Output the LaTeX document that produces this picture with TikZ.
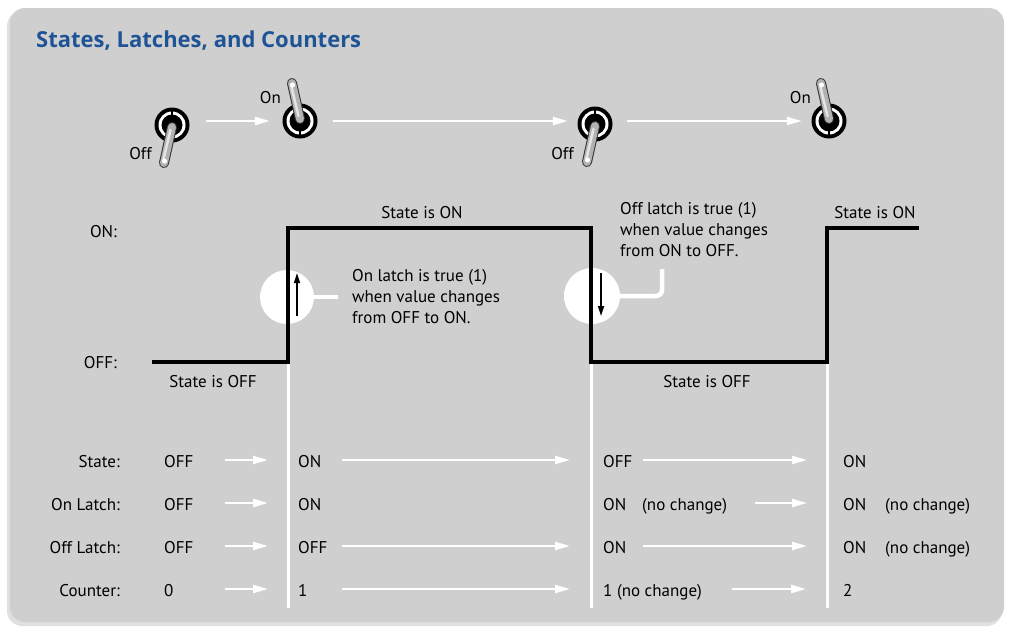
\documentclass[tikz,border=0pt]{standalone}
\usepackage{fontspec}
\setmainfont{PT Sans}
\newfontfamily\titlefont{Open Sans}
\usetikzlibrary{arrows.meta, positioning, calc}
\definecolor{panelgray}{RGB}{207,207,207}
\definecolor{titleblue}{RGB}{30,84,150}
\definecolor{levergray}{RGB}{178,178,178}
\tikzset{
  %% ---- text ----
  txt/.style     = {inner sep=0pt, font=\fontsize{17}{21}\selectfont, text=black},
  rowlab/.style  = {txt, anchor=base east},
  cell/.style    = {txt, anchor=base west},
  note/.style    = {txt, anchor=base west, align=left},
  caption/.style = {txt, anchor=base},
  %% ---- lines ----
  flow/.style    = {-{Triangle[length=15pt,width=8pt]}, line width=2.4pt, white},
  divider/.style = {line width=3pt, white},
  signal/.style  = {line width=3.6pt, black, line join=miter},
  edgearrow/.style = {-{Triangle[length=10pt,width=6pt]}, line width=1.6pt, black},
  callout/.style = {line width=4.5pt, white, rounded corners=6pt},
  lens/.style    = {circle, fill=white, inner sep=0pt, minimum size=#1},
  lens/.default  = 54pt,
  %% ---- toggle switch (lever down = Off) ----
  toggle/.pic = {
    \node[circle, inner sep=0pt, minimum size=34pt] (-ring) at (0,0) {};
    \fill[black] (0,0) circle (17.5);
    \fill[white] (0,0) circle (13.5);
    \fill[black] (0,0) circle (10.5);
    \draw[black, line width=2.5pt] (0,-9) -- (0,-17);
    \draw[black!80, line width=10pt, line cap=round] (0,2) -- (-8,38);
    \draw[levergray, line width=8pt, line cap=round] (0,2) -- (-8,38);
    \draw[white!65!levergray, line width=2.5pt, line cap=round] (-1.5,5) -- (-8.5,34);
    \fill[white] (-7.5,36) circle (2.6);
  }
}

\begin{document}
\begin{tikzpicture}[x=1pt, y=-1pt]

  \useasboundingbox[fill=white] (0,0) rectangle (1010,627);
  \fill[black, opacity=0.12, rounded corners=15pt] (7,11) rectangle (1002,626);
  \fill[panelgray, rounded corners=15pt] (10,8) rectangle (1004,622);

  \node[anchor=base west, inner sep=0pt, text=titleblue,
    font=\titlefont\bfseries\fontsize{22}{26}\selectfont] (title) at (36,47)
    {States, Latches, and Counters};

  %% switches
  \pic (swA) at (172,125) {toggle};
  \pic[yscale=-1] (swB) at (300,121) {toggle};
  \pic (swC) at (595,124) {toggle};
  \pic[yscale=-1] (swD) at (829,121) {toggle};
  \node[txt, anchor=base east] (offA) at (152,159) {Off};
  \node[txt, anchor=base east] (onB)  at (281,103) {On};
  \node[txt, anchor=base east] (offC) at (574,159) {Off};
  \node[txt, anchor=base east] (onD)  at (811,103) {On};

  \draw[flow, shorten <=17pt, shorten >=13pt]
    (swA-ring.east |- swB-ring.center) -- (swB-ring.west);
  \draw[flow, shorten <=16pt, shorten >=10pt]
    (swB-ring.east) -- (swB-ring.east -| swC-ring.west);
  \draw[flow, shorten <=15pt, shorten >=10pt]
    (swC-ring.east |- swD-ring.center) -- (swD-ring.west);

  %% signal levels
  \node[rowlab] (lvlon)  at (117,237) {ON:};
  \node[rowlab] (lvloff) at (117,368) {OFF:};

  \coordinate (e1) at (288,362);
  \coordinate (e2) at (591,362);
  \coordinate (e3) at (827,362);
  \coordinate (bot) at (0,608);
  \foreach \e in {e1, e2, e3}
    \draw[divider] (\e) -- (\e |- bot);

  \node[lens] (lensA) at (287,297) {};
  \node[lens=56pt] (lensB) at (592,296) {};
  \coordinate (hookA) at (338,297);
  \coordinate (hookB) at (662,269);
  \draw[callout] (lensA.east) -- (hookA);
  \draw[callout] (lensB.east) -| (hookB);

  \draw[signal] (152,362) -- (e1) -- (288,228) -- (591,228) -- (e2)
    -- (e3) -- (827,228) -- (919,228);

  \draw[edgearrow] (297,316) -- (297,273);
  \draw[edgearrow] (601,273) -- (601,316);

  \node[caption] (son1)  at (422,218) {State is ON};
  \node[caption] (soff1) at (213,387) {State is OFF};
  \node[caption] (soff2) at (707,387) {State is OFF};
  \node[caption] (son2)  at (875,218) {State is ON};

  %% multi-line notes sit on the baseline of their last line
  \node[note] (noteA) at (352,323)
    {On latch is true (1)\\when value changes\\from OFF to ON.};
  \node[note] (noteB) at (620,256)
    {Off latch is true (1)\\when value changes\\from ON to OFF.};

  %% table
  \foreach \lab/\y [count=\r] in {State:/467, On Latch:/510, Off Latch:/553, Counter:/596}
    \node[rowlab] (row\r) at (120,\y) {\lab};

  \foreach \y/\a/\b/\c/\d [count=\r] in {
      467/OFF/ON/OFF/ON,
      510/OFF/ON/ON/ON,
      553/OFF/OFF/ON/ON,
      596/0/1/1 (no change)/2} {
    \node[cell] (c\r1) at (164,\y) {\a};
    \node[cell] (c\r2) at (298,\y) {\b};
    \node[cell] (c\r3) at (603,\y) {\c};
    \node[cell] (c\r4) at (843,\y) {\d};
  }
  \node[cell] (nc23) at (642,510) {(no change)};
  \node[cell] (nc24) at (885,510) {(no change)};
  \node[cell] (nc34) at (885,553) {(no change)};

  \foreach \y/\xa/\xb [count=\k] in {
      460/225/268, 460/342/570, 460/643/807,
      503/225/268, 503/755/807,
      546/225/268, 546/342/570, 546/643/807,
      589/225/268, 589/342/570, 589/732/806} {
    \coordinate (as\k) at (\xa,\y);
    \coordinate (ae\k) at (\xb,\y);
    \draw[flow] (as\k) -- (ae\k);
  }

\end{tikzpicture}
\end{document}
